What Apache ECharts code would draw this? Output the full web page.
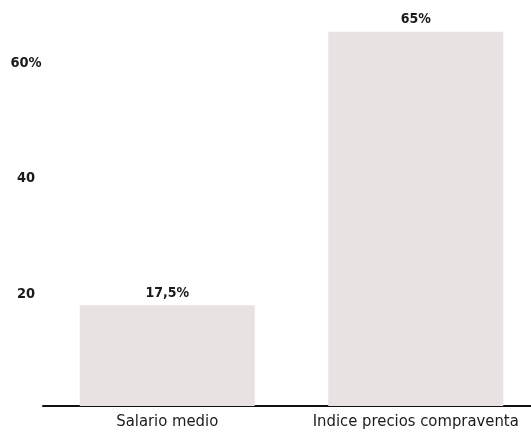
<!DOCTYPE html>
<html>
<head>
<meta charset="utf-8">
<script src="https://cdn.jsdelivr.net/npm/echarts@6/dist/echarts.min.js"></script>
<style>
html,body{margin:0;padding:0;background:#fff;}
#c{width:531px;height:437px;}
</style>
</head>
<body>
<div id="c"></div>
<script>
var categories = ["Salario medio", "Indice precios compraventa"];
var values = [17.5, 65];
var yTicks = [20, 40, 60];

var chart = echarts.init(document.getElementById('c'));
chart.setOption({
  animation: false,
  grid: {left: 43, width: 497, top: 3, bottom: 31, containLabel: false, outerBoundsMode: 'none'},
  xAxis: {
    type: 'category',
    data: categories,
    axisLine: {show: true, lineStyle: {color: '#111', width: 2}},
    axisTick: {show: false},
    axisLabel: {
      interval: 0,
      hideOverlap: false,
      color: '#1a1a1a',
      fontFamily: 'DejaVu Sans Condensed, DejaVu Sans',
      fontSize: 16.5,
      margin: 7
    }
  },
  yAxis: {
    type: 'value',
    min: 0,
    max: 70,
    interval: 20,
    axisLine: {show: false},
    axisTick: {show: false},
    splitLine: {show: false},
    axisLabel: {
      color: '#1a1a1a',
      fontFamily: 'DejaVu Sans Condensed, DejaVu Sans',
      fontWeight: 'bold',
      fontSize: 14.5,
      align: 'center',
      verticalAlign: 'top',
      lineHeight: 6,
      margin: 17,
      formatter: function (v) {
        if (yTicks.indexOf(v) < 0) return '';
        return v === 60 ? v + '%' : String(v);
      }
    }
  },
  series: [{
    type: 'bar',
    data: values,
    barWidth: 175,
    itemStyle: {color: '#e8e2e2'},
    label: {
      show: true,
      position: 'top',
      distance: 5,
      color: '#1a1a1a',
      fontFamily: 'DejaVu Sans Condensed, DejaVu Sans',
      fontWeight: 'bold',
      fontSize: 14,
      formatter: function (p) { return String(p.value).replace('.', ',') + '%'; }
    }
  }]
});
</script>
</body>
</html>
